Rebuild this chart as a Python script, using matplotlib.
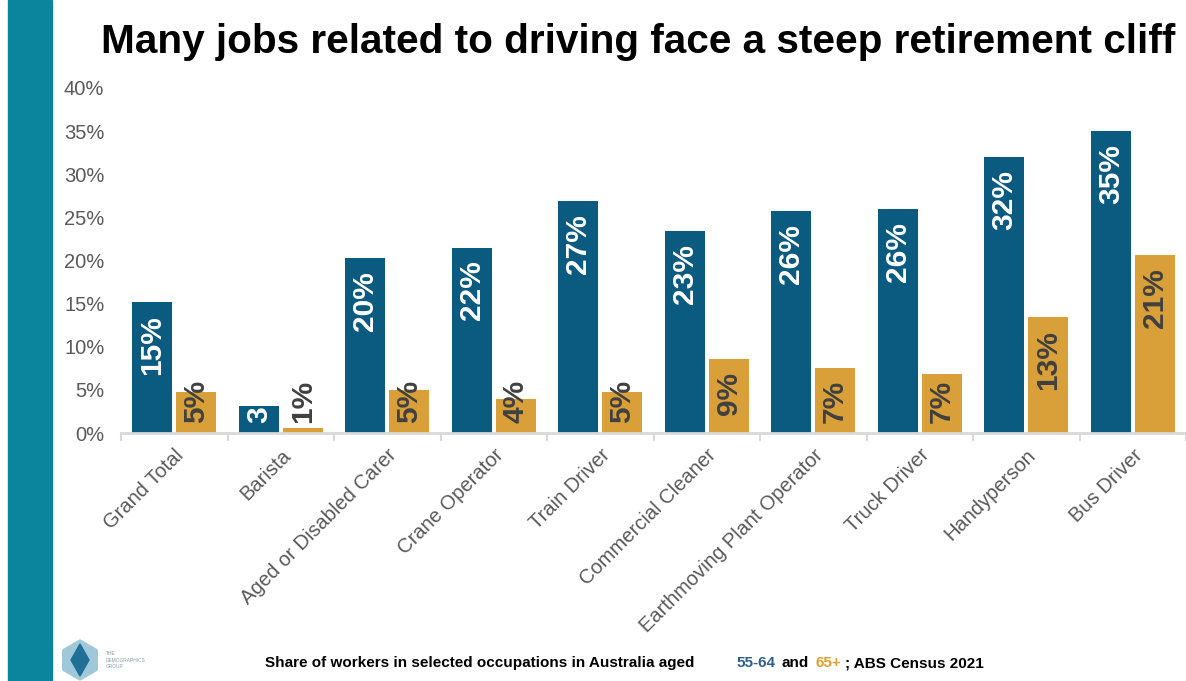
import matplotlib.pyplot as plt
import numpy as np
from matplotlib.patches import Rectangle, Polygon

plt.rcParams['font.family'] = ['Liberation Sans', 'DejaVu Sans']

# data ------------------------------------------------------------------------
occupations = ['Grand Total', 'Barista', 'Aged or Disabled Carer', 'Crane Operator',
               'Train Driver', 'Commercial Cleaner', 'Earthmoving Plant Operator',
               'Truck Driver', 'Handyperson', 'Bus Driver']
share_55_64 = [15.2, 3.1, 20.3, 21.5, 26.9, 23.4, 25.7, 26.0, 32.0, 35.0]
share_65_plus = [4.8, 0.6, 5.0, 3.9, 4.8, 8.6, 7.6, 6.9, 13.4, 20.6]
labels_55_64 = ['15%', '3', '20%', '22%', '27%', '23%', '26%', '26%', '32%', '35%']
labels_65_plus = ['5%', '1%', '5%', '4%', '5%', '9%', '7%', '7%', '13%', '21%']
yticks = [0, 5, 10, 15, 20, 25, 30, 35, 40]

BLUE = '#0b5a80'
ORANGE = '#d99f38'
GREY = '#595959'
W, H = 1186, 681

fig = plt.figure(figsize=(W / 100, H / 100), dpi=100)
ax = fig.add_axes([121 / W, 0.364, 1 - 121 / W, 0.507])

x = np.arange(len(occupations))
w = 0.375
off = 0.206
b1 = ax.bar(x - off, share_55_64, w, color=BLUE)
b2 = ax.bar(x + off, share_65_plus, w, color=ORANGE)

# axes styling -------------------------------------------------------------------
ax.set_xlim(-0.5, len(occupations) - 0.5)
ax.set_ylim(0, 40)
ax.set_yticks(yticks)
ax.set_yticklabels([f'{t}%' for t in yticks], fontsize=14.5, color=GREY)
ax.tick_params(axis='y', length=0, pad=12)
ax.set_xticks(x)
ax.set_xticklabels(occupations, rotation=45, ha='right', rotation_mode='anchor',
                   fontsize=14.5, color=GREY)
ax.tick_params(axis='x', length=0, pad=9)
ax.set_xticks(np.arange(-0.5, len(occupations)), minor=True)
ax.tick_params(axis='x', which='minor', length=6, width=1.5, color='#d9d9d9')
for s in ['top', 'right', 'left']:
    ax.spines[s].set_visible(False)
ax.spines['bottom'].set_color('#d9d9d9')
ax.spines['bottom'].set_linewidth(2)

# value labels: inside end, pushed up from the base when the bar is too short ---
fig.canvas.draw()
renderer = fig.canvas.get_renderer()
base_px = ax.transData.transform((0, 0))[1]


def add_label(rect, lab, color):
    cx = rect.get_x() + rect.get_width() / 2
    h = rect.get_height()
    t = ax.annotate(lab, (cx, h), xytext=(0, -13), textcoords='offset pixels',
                    rotation=90, ha='center', va='top', color=color,
                    fontsize=21.5, fontweight='bold')
    bb = t.get_window_extent(renderer)
    if bb.y0 < base_px + 10:
        t.remove()
        ax.annotate(lab, (cx, 0), xytext=(0, 10), textcoords='offset pixels',
                    rotation=90, ha='center', va='bottom', color=color,
                    fontsize=21.5, fontweight='bold', annotation_clip=False)


for rect, lab in zip(b1, labels_55_64):
    add_label(rect, lab, 'white')
for rect, lab in zip(b2, labels_65_plus):
    add_label(rect, lab, '#404040')

# title and side band ----------------------------------------------------------
fig.text(638 / W, 1 - 53 / H, 'Many jobs related to driving face a steep retirement cliff',
         ha='center', va='baseline', fontsize=29.2, fontweight='bold', color='black')
fig.add_artist(Rectangle((8 / W, 0), 44 / W, 1.0, transform=fig.transFigure,
                         color='#0b849e', zorder=0))

# footer -------------------------------------------------------------------------
fy = 1 - 663 / H
parts = [(265, 'Share of workers in selected occupations in Australia aged', 'black'),
         (736, '55-64', '#2e5f8a'),
         (782, 'and', 'black'),
         (816, '65+', '#e0a030'),
         (845, '; ABS Census 2021', 'black')]
for px, txt, col in parts:
    fig.text(px / W, fy, txt, ha='left', va='center', fontsize=11,
             fontweight='bold', color=col)

# simple logo -------------------------------------------------------------------
cx, cy = 80 / W, 1 - 660 / H
sx, sy = 1 / W, 1 / H
hexagon = [(cx + 20 * np.cos(a) * sx, cy + 20 * np.sin(a) * sy)
           for a in np.linspace(np.pi / 6, 2 * np.pi + np.pi / 6, 7)[:-1]]
fig.add_artist(Polygon(hexagon, closed=True, transform=fig.transFigure,
                       color='#9fc9d8', zorder=1))
diamond = [(cx, cy + 16 * sy), (cx + 9 * sx, cy), (cx, cy - 16 * sy), (cx - 9 * sx, cy)]
fig.add_artist(Polygon(diamond, closed=True, transform=fig.transFigure,
                       color='#1f6f97', zorder=2))
fig.text(106 / W, cy, 'THE\nDEMOGRAPHICS\nGROUP', ha='left', va='center',
         fontsize=3.5, color='#8a9aa8', linespacing=1.4)

fig.savefig('out.png', dpi=100)
